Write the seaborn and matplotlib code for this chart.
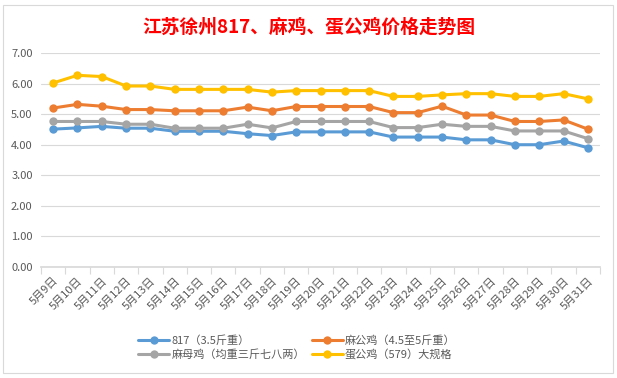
import pandas as pd
import matplotlib
matplotlib.use('Agg')
import matplotlib.pyplot as plt
import seaborn as sns
from matplotlib.patches import Rectangle
from matplotlib.ticker import FixedLocator

# dane
dni = ['5月9日', '5月10日', '5月11日', '5月12日', '5月13日', '5月14日', '5月15日', '5月16日',
       '5月17日', '5月18日', '5月19日', '5月20日', '5月21日', '5月22日', '5月23日', '5月24日',
       '5月25日', '5月26日', '5月27日', '5月28日', '5月29日', '5月30日', '5月31日']

c817 = [4.51, 4.55, 4.60, 4.54, 4.54, 4.44, 4.44, 4.44, 4.36, 4.30, 4.42, 4.42,
        4.42, 4.42, 4.25, 4.25, 4.25, 4.16, 4.16, 4.00, 4.00, 4.12, 3.90]
ma_gong = [5.20, 5.32, 5.26, 5.15, 5.15, 5.11, 5.11, 5.11, 5.23, 5.11, 5.25, 5.25,
           5.25, 5.25, 5.05, 5.05, 5.26, 4.97, 4.97, 4.76, 4.76, 4.81, 4.51]
ma_mu = [4.76, 4.76, 4.76, 4.67, 4.67, 4.54, 4.54, 4.54, 4.67, 4.55, 4.76, 4.76,
         4.76, 4.76, 4.56, 4.56, 4.67, 4.60, 4.60, 4.45, 4.45, 4.45, 4.20]
dan_gong = [6.02, 6.27, 6.23, 5.92, 5.92, 5.81, 5.81, 5.81, 5.81, 5.72, 5.77, 5.77,
            5.77, 5.77, 5.58, 5.58, 5.63, 5.67, 5.67, 5.58, 5.58, 5.67, 5.50]

serie = ['817（3.5斤重）', '麻公鸡（4.5至5斤重）', '麻母鸡（均重三斤七八两）', '蛋公鸡（579）大规格']
kolory = ['#5B9BD5', '#ED7D31', '#A5A5A5', '#FFC000']

df = pd.DataFrame({'日期': dni * 4,
                   '价格': c817 + ma_gong + ma_mu + dan_gong,
                   '品种': [s for s in serie for _ in dni]})
df['x'] = list(range(len(dni))) * 4

sns.set_theme(style='white')
plt.rcParams['font.family'] = ['Noto Sans CJK SC', 'DejaVu Sans']

fig = plt.figure(figsize=(6.17, 3.78), dpi=100)
ax = fig.add_axes([41 / 617, 1 - 267 / 378, 559 / 617, 214 / 378])

sns.lineplot(data=df, x='x', y='价格', hue='品种', hue_order=serie, palette=kolory,
             marker='o', markersize=6, markeredgewidth=0, linewidth=2.2, ax=ax, legend=True)

ax.set_xlim(-0.5, len(dni) - 0.5)
ax.set_ylim(0, 7)
ax.set_yticks(range(0, 8))
ax.set_yticklabels([f'{v:.2f}' for v in range(0, 8)], fontsize=8, color='#595959')
ax.set_xticks(range(len(dni)))
ax.set_xticklabels(dni, rotation=45, ha='right', rotation_mode='anchor', fontsize=8, color='#595959')
ax.xaxis.set_minor_locator(FixedLocator([i - 0.5 for i in range(len(dni) + 1)]))
ax.tick_params(axis='x', which='major', length=0, pad=6)
ax.tick_params(axis='x', which='minor', length=5, color='#d9d9d9', width=0.8, bottom=True)
ax.tick_params(axis='y', length=0, pad=6)
ax.set_xlabel('')
ax.set_ylabel('')
ax.grid(axis='y', color='#d9d9d9', linewidth=0.8)
ax.set_axisbelow(True)
for s in ['top', 'right', 'left']:
    ax.spines[s].set_visible(False)
ax.spines['bottom'].set_color('#d9d9d9')

# legenda - kolejność jak w oryginale (dwa wiersze)
h, l = ax.get_legend_handles_labels()
ax.get_legend().remove()
kol = [0, 2, 1, 3]
fig.legend([h[i] for i in kol], [l[i] for i in kol], ncol=2, loc='upper left',
           bbox_to_anchor=(128 / 617, 1 - 325 / 378), frameon=False, fontsize=8,
           handlelength=2.8, columnspacing=0.6, labelspacing=0.3, handletextpad=0.2,
           labelcolor='#595959')

fig.text(0.5, 1 - 27 / 378, '江苏徐州817、麻鸡、蛋公鸡价格走势图', ha='center', va='center',
         fontsize=13.5, fontweight='bold', color='#FF0000')

fig.patches.append(Rectangle((3 / 617, 5 / 378), 610 / 617, 368 / 378, transform=fig.transFigure,
                             fill=False, edgecolor='#d9d9d9', linewidth=0.8))

plt.savefig('out.png', dpi=100)
